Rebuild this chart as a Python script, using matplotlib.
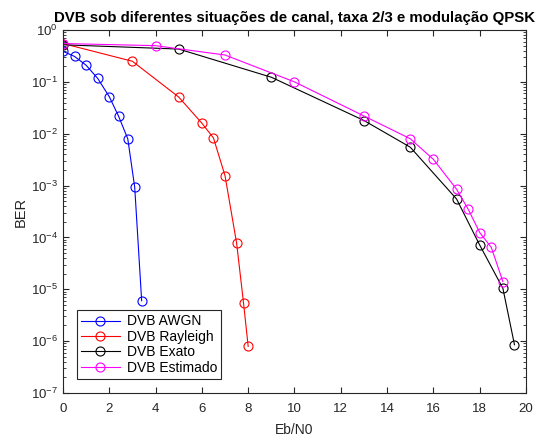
import matplotlib
matplotlib.use("Agg")
import matplotlib.pyplot as plt
import numpy as np

plt.rcParams["font.family"] = ["Liberation Sans", "DejaVu Sans"]
plt.rcParams["mathtext.fontset"] = "custom"
plt.rcParams["mathtext.rm"] = "Liberation Sans"

# Eb/N0 (dB) and BER values
awgn_x = [0, 0.5, 1, 1.5, 2, 2.4, 2.8, 3.1, 3.4]
awgn_ber = [0.39, 0.31, 0.21, 0.117, 0.052, 0.022, 0.008, 9.3e-4, 6e-6]

ray_x = [0, 3, 5, 6, 6.5, 7, 7.5, 7.8, 8]
ray_ber = [0.55, 0.25, 0.051, 0.016, 0.0083, 0.00155, 7.8e-5, 5.4e-6, 7.9e-7]

exato_x = [0, 5, 9, 13, 15, 17, 18, 19, 19.5]
exato_ber = [0.52, 0.43, 0.123, 0.018, 0.0055, 5.5e-4, 7.1e-5, 1.04e-5, 8.5e-7]

est_x = [0, 4, 7, 10, 13, 15, 16, 17, 17.5, 18, 18.5, 19]
est_ber = [0.55, 0.5, 0.33, 0.10, 0.022, 0.008, 0.0032, 8.5e-4, 3.5e-4, 1.24e-4, 6.4e-5, 1.4e-5]

series = [
    (awgn_x, awgn_ber, "#0000ff", "DVB AWGN"),
    (ray_x, ray_ber, "#ff0000", "DVB Rayleigh"),
    (exato_x, exato_ber, "#000000", "DVB Exato"),
    (est_x, est_ber, "#ff00ff", "DVB Estimado"),
]

fig = plt.figure(figsize=(5.52, 4.42), dpi=100)
ax = fig.add_axes([0.114, 0.111, 0.839, 0.821])

for x, y, c, lab in series:
    ax.semilogy(x, y, "-o", color=c, mfc="none", mec=c, ms=6.5, lw=0.8, mew=0.8, label=lab)

ax.set_xlim(0, 20)
ax.set_ylim(1e-7, 1)
ax.set_xticks(np.arange(0, 21, 2))
ax.tick_params(which="both", direction="in", top=True, right=True, colors="#262626",
               labelsize=9.5)
ax.tick_params(which="major", length=4)
ax.tick_params(which="minor", length=2)
ax.tick_params(axis="x", pad=7)
for s in ax.spines.values():
    s.set_color("#262626")
    s.set_linewidth(0.8)

ax.set_xlabel("Eb/N0", fontsize=10, color="#262626", labelpad=6)
ax.set_ylabel("BER", fontsize=10.5, color="#262626", labelpad=2)
ax.set_title("DVB sob diferentes situações de canal, taxa 2/3 e modulação QPSK",
             fontsize=10.8, fontweight="bold", pad=6)

leg = ax.legend(loc="lower left", bbox_to_anchor=(0.03, 0.039), borderaxespad=0,
                fontsize=10, fancybox=False, framealpha=1, edgecolor="#262626",
                handlelength=2.8, labelspacing=0.1, borderpad=0.3, handletextpad=0.5)
leg.get_frame().set_linewidth(0.8)

fig.savefig("out.png", dpi=100)
